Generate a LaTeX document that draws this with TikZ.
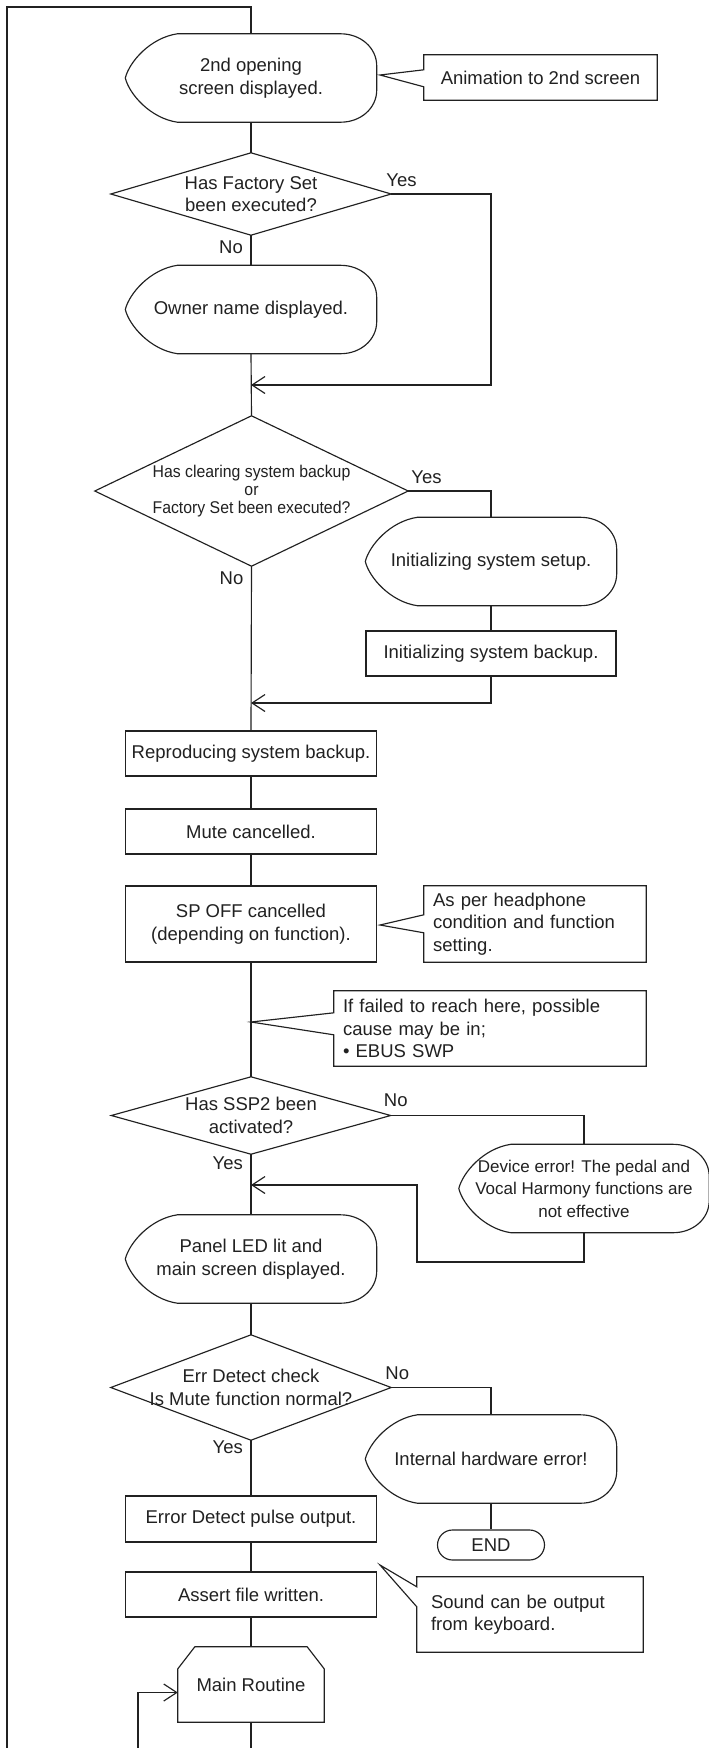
\documentclass[tikz,border=0pt]{standalone}
\usepackage{fontspec}
\setmainfont{Liberation Sans}
\newfontfamily\narrowsans{Liberation Sans}[FakeStretch=0.93]
\usetikzlibrary{arrows.meta,calc}
\definecolor{ink}{rgb}{0.13,0.13,0.13}

\tikzset{
  flow/.style={draw=ink, line width=1.15pt},
  arr/.style={-{Straight Barb[length=13pt,width=17pt]}},
  txt/.style={text=ink, font=\fontsize{18.5}{22.5}\selectfont, inner sep=0pt, align=center},
  display/.style={txt, minimum width=251pt, minimum height=88pt},
  procbox/.style={txt, draw=ink, line width=1.15pt, minimum width=251pt, minimum height=45pt},
  callout/.style={txt, align=left, inner xsep=9pt, inner ysep=0pt},
  lbl/.style={txt}
}

% display symbol: pointed left side, rounded right side
\newcommand\dispoutline[1]{%
  \draw[flow]
   ([xshift=52pt]#1.north west) -- ([xshift=-36pt]#1.north east)
   .. controls ([xshift=-16pt]#1.north east) and ([yshift=-14pt]#1.north east) .. ([yshift=-32pt]#1.north east)
   -- ([yshift=32pt]#1.south east)
   .. controls ([yshift=14pt]#1.south east) and ([xshift=-16pt]#1.south east) .. ([xshift=-36pt]#1.south east)
   -- ([xshift=52pt]#1.south west)
   .. controls ([xshift=25pt,yshift=4pt]#1.south west) and ([xshift=4pt,yshift=28pt]#1.south west) .. (#1.west)
   .. controls ([xshift=4pt,yshift=-28pt]#1.north west) and ([xshift=25pt,yshift=-4pt]#1.north west) .. ([xshift=52pt]#1.north west)
   -- cycle;}
% decision diamond on the node's four side anchors
\newcommand\decoutline[1]{%
  \draw[flow] (#1.north) -- (#1.east) -- (#1.south) -- (#1.west) -- cycle;}
% note box with a pointer leaving its left side
\newcommand\calloutline[4]{%
  \draw[flow] (#1.north west) -- (#1.north east) -- (#1.south east) -- (#1.south west)
    -- ($(#1.north west)+(0,#3)$) -- (#4) -- ($(#1.north west)+(0,#2)$) -- cycle;}

\begin{document}
\begin{tikzpicture}[x=1pt,y=-1pt]
\useasboundingbox (0,0) rectangle (709,1748);
\fill[white] (0,0) rectangle (709,1748);

% ---- main column
\node[display] (s1) at (251,78) {2nd opening\\screen displayed.};
\node[callout, align=center, minimum width=233pt, minimum height=45pt] (c1) at (540.5,77.5) {Animation to 2nd screen};
\node[txt, minimum width=280pt, minimum height=82pt] (d1) at (251,194) {Has Factory Set\\been executed?};
\node[display] (s2) at (251,309.5) {Owner name displayed.};
\node[txt, minimum width=313pt, minimum height=150pt, font=\narrowsans\fontsize{17}{18}\selectfont] (d2) at (251.5,491) {Has clearing system backup\\or\\Factory Set been executed?};
\node[display] (s3) at (491,561.5) {Initializing system setup.};
\node[procbox, minimum width=250pt] (b1) at (491,653.5) {Initializing system backup.};
\node[procbox] (b2) at (251,753.5) {Reproducing system backup.};
\node[procbox] (b3) at (251,831.5) {Mute cancelled.};
\node[procbox, minimum height=76pt] (b4) at (251,924) {SP OFF cancelled\\(depending on function).};
\node[callout, text width=204pt, minimum height=76pt] (c2) at (535,924) {As per headphone\\condition and function\\setting.};
\node[callout, text width=294pt, minimum height=75pt] (c3) at (490,1028.5) {If failed to reach here, possible\\cause may be in;\\• EBUS SWP};
\node[txt, minimum width=279pt, minimum height=77pt] (d3) at (251,1115.5) {Has SSP2 been\\activated?};
\node[display, minimum width=250pt, font=\fontsize{17}{22.5}\selectfont] (s5) at (584,1188.5) {Device error! The pedal and\\Vocal Harmony functions are\\not effective};
\node[display] (s4) at (251,1259) {Panel LED lit and\\main screen displayed.};
\node[txt, minimum width=280pt, minimum height=105pt] (d4) at (251,1387.5) {Err Detect check\\Is Mute function normal?};
\node[display] (s6) at (491,1459) {Internal hardware error!};
\node[txt, draw=ink, line width=1.15pt, rounded corners=15pt, minimum width=107pt, minimum height=30pt] (stop) at (491,1545) {END};
\node[procbox, minimum height=46pt] (b5) at (251,1519) {Error Detect pulse output.};
\node[procbox] (b6) at (251,1594.5) {Assert file written.};
\node[callout, inner xsep=14pt, text width=198pt, minimum height=75pt] (c4) at (530,1614.5) {Sound can be output\\from keyboard.};
\node[txt, minimum width=146pt, minimum height=75pt] (mr) at (251,1684.5) {Main Routine};

% ---- outlines
\dispoutline{s1}
\dispoutline{s2}
\dispoutline{s3}
\dispoutline{s4}
\dispoutline{s5}
\dispoutline{s6}
\decoutline{d1}
\decoutline{d2}
\decoutline{d3}
\decoutline{d4}
\draw[flow] ([xshift=17pt]mr.north west) -- ([xshift=-17pt]mr.north east) -- ([yshift=-22pt]mr.north east)
  -- (mr.south east) -- (mr.south west) -- ([yshift=-22pt]mr.north west) -- cycle;

% ---- note pointers
\coordinate (t1) at (380,75);
\coordinate (t2) at (380,925);
\coordinate (t3) at (251,1022);
\coordinate (t4) at (380,1565);
\calloutline{c1}{15}{32}{t1}
\calloutline{c2}{29}{47}{t2}
\calloutline{c3}{22}{44}{t3}
\calloutline{c4}{10}{30}{t4}

% ---- branch labels
\node[lbl, anchor=west] at ($(d1.east)+(-5,-14)$) {Yes};
\node[lbl, anchor=east] at ($(d1.south)+(-8,12)$) {No};
\node[lbl, anchor=west] at ($(d2.east)+(3,-14)$) {Yes};
\node[lbl, anchor=east] at ($(d2.south)+(-8,12)$) {No};
\node[lbl, anchor=west] at ($(d3.east)+(-7,-15)$) {No};
\node[lbl, anchor=east] at ($(d3.south)+(-8,9)$) {Yes};
\node[lbl, anchor=west] at ($(d4.east)+(-6,-14.5)$) {No};
\node[lbl, anchor=east] at ($(d4.south)+(-8,7)$) {Yes};

% ---- junctions and free ends
\coordinate (j1) at (251,385);
\coordinate (j2) at (251,703);
\coordinate (j3) at (251,1185);
\coordinate (r1) at (491,385);
\coordinate (r3) at (417,1262);
\coordinate (topl) at (7,7);
\coordinate (botl) at (7,1748);
\coordinate (bot) at (251,1748);
\coordinate (loopb) at (138,1748);

% ---- connectors
\draw[flow] (botl) -- (topl) -| (s1.north);
\draw[flow] (s1.south) -- (d1.north);
\draw[flow] (d1.south) -- (s2.north);
\draw[flow, arr] (d1.east) -| (r1) -- (j1);
\draw[flow] (s2.south) -- (d2.north);
\draw[flow] (d2.east) -| (s3.north);
\draw[flow] (s3.south) -- (b1.north);
\draw[flow, arr] (b1.south) |- (j2);
\draw[flow] (d2.south) -- (b2.north);
\draw[flow] (b2.south) -- (b3.north);
\draw[flow] (b3.south) -- (b4.north);
\draw[flow] (b4.south) -- (d3.north);
\draw[flow] (d3.east) -| (s5.north);
\draw[flow, arr] (s5.south) |- (r3) |- (j3);
\draw[flow] (d3.south) -- (s4.north);
\draw[flow] (s4.south) -- (d4.north);
\draw[flow] (d4.east) -| (s6.north);
\draw[flow] (s6.south) -- (stop.north);
\draw[flow] (d4.south) -- (b5.north);
\draw[flow] (b5.south) -- (b6.north);
\draw[flow] (b6.south) -- (mr.north);
\draw[flow] (mr.south) -- (bot);
\draw[flow, arr] (loopb) |- ($(mr.west)+(0,8)$);
\end{tikzpicture}
\end{document}
